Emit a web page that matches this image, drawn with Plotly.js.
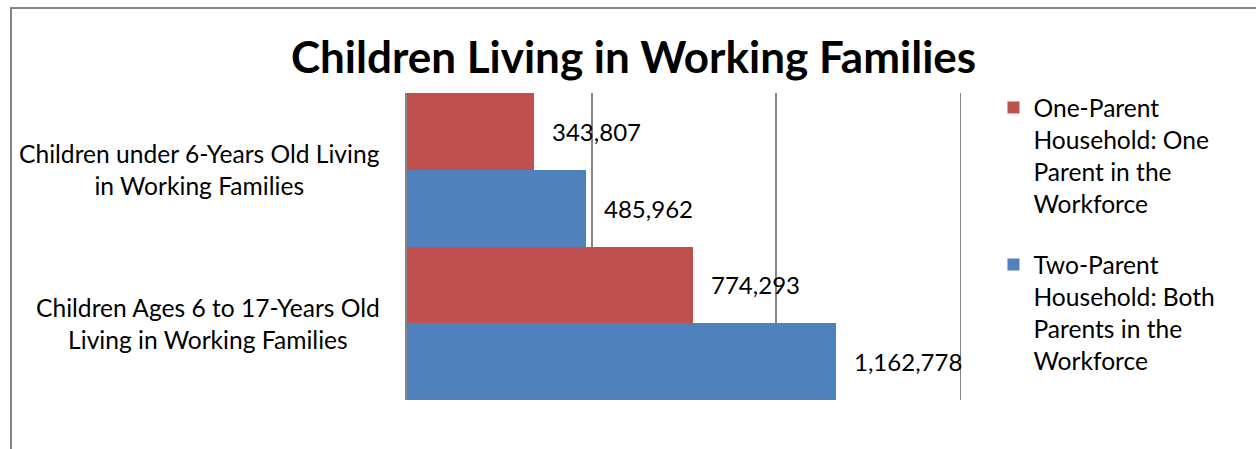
<!DOCTYPE html>
<html>
<head>
<meta charset="utf-8">
<script src="https://cdn.plot.ly/plotly-3.0.1.min.js"></script>
<style>
  html, body { margin: 0; padding: 0; background: #ffffff; }
  #wrap { position: relative; width: 1256px; height: 449px; overflow: hidden; }
  #chart { position: absolute; left: 0; top: 0; width: 1256px; height: 449px; }
  #frame { position: absolute; left: 10px; top: 7px; width: 1400px; height: 600px;
           border-left: 2px solid #848484; border-top: 2px solid #848484; pointer-events: none; }
</style>
</head>
<body>
<div id="wrap">
  <div id="chart"></div>
  <div id="frame"></div>
</div>
<script>
// ---- data ----
const categories = ["Children under 6-Years Old Living in Working Families",
                    "Children Ages 6 to 17-Years Old Living in Working Families"];
const categoryLabels = ["Children under 6-Years Old Living<br>in Working Families",
                        "Children Ages 6 to 17-Years Old<br>Living in Working Families"];
const seriesNames = ["One-Parent<br>Household: One<br>Parent in the<br>Workforce",
                     "Two-Parent<br>Household: Both<br>Parents in the<br>Workforce"];
const oneParent = [343807, 774293];
const twoParent = [485962, 1162778];
const xMax = 1500000;
const xStep = 500000;
const chartTitle = "Children Living in Working Families";

// ---- styles ----
const FONT = "Lato, 'Liberation Sans', sans-serif";
const colors = ["#C0504D", "#4F81BD"];
const gridColor = "#868686";

const series = [oneParent, twoParent];
const traces = series.map((vals, i) => ({
  type: "bar",
  orientation: "h",
  name: seriesNames[i],
  y: categories,
  x: vals,
  marker: { color: colors[i] },
  legendgroup: "g" + i,
  hoverinfo: "x+name"
}));

const fmt = v => v.toLocaleString("en-US");
const annotations = [];
series.forEach((vals, si) => {
  vals.forEach((v, ci) => {
    annotations.push({
      x: v, y: ci + (si === 0 ? -0.25 : 0.25),
      xref: "x", yref: "y",
      text: fmt(v), showarrow: false,
      xanchor: "left", yanchor: "middle", xshift: 16,
      font: { family: FONT, size: 24, color: "#000000" }
    });
  });
});
categoryLabels.forEach((lab, ci) => {
  annotations.push({
    x: -0.0451, y: categories[ci], xref: "paper", yref: "y",
    text: lab, showarrow: false, align: "center",
    xanchor: "right", yanchor: "middle",
    font: { family: FONT, size: 24.6, color: "#000000" }
  });
});

const layout = {
  width: 1256, height: 449,
  margin: { l: 407, r: 294.5, t: 93, b: 49, pad: 0 },
  paper_bgcolor: "#ffffff", plot_bgcolor: "#ffffff",
  font: { family: FONT, size: 24, color: "#000000" },
  title: {
    text: "<b>" + chartTitle + "</b>",
    font: { family: FONT, size: 44, color: "#000000" },
    x: 0.5044, xref: "container", xanchor: "center",
    y: 1 - 58 / 449, yref: "container", yanchor: "middle"
  },
  barmode: "group", bargap: 0, bargroupgap: 0,
  xaxis: {
    range: [0, xMax], dtick: xStep, tick0: 0,
    showgrid: true, gridcolor: gridColor, gridwidth: 2,
    zeroline: false, showticklabels: false, ticks: "", showline: false,
    fixedrange: true
  },
  yaxis: {
    autorange: "reversed", showticklabels: false, ticks: "",
    showline: true, linecolor: gridColor, linewidth: 2,
    showgrid: false, zeroline: false, fixedrange: true
  },
  shapes: [{
    type: "line", xref: "x", yref: "paper",
    x0: xMax, x1: xMax, y0: 0, y1: 1,
    line: { color: gridColor, width: 2 }, layer: "below"
  }],
  showlegend: true,
  legend: {
    x: 1.0586, xanchor: "left", y: 1.026, yanchor: "top",
    font: { family: FONT, size: 24.6, color: "#000000" },
    traceorder: "grouped", tracegroupgap: 26, valign: "top",
    maxheight: 440,
    bgcolor: "rgba(0,0,0,0)"
  },
  annotations: annotations
};

Plotly.newPlot("chart", traces, layout, { displayModeBar: false, staticPlot: true });
</script>
</body>
</html>
